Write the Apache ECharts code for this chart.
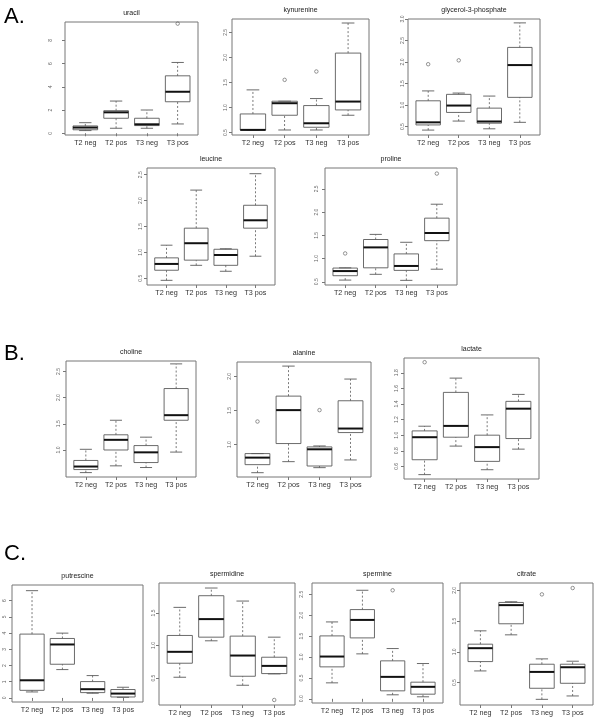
<!DOCTYPE html>
<html><head><meta charset="utf-8">
<script src="https://cdn.jsdelivr.net/npm/echarts@6/dist/echarts.min.js"></script>
<style>html,body{margin:0;padding:0;background:#fff}#c{width:600px;height:720px}</style>
</head><body><div id="c"></div>
<script>
const groups = ['T2 neg', 'T2 pos', 'T3 neg', 'T3 pos'];
// each box: [lower whisker, Q1, median, Q3, upper whisker]
const uracil = [[0.23,0.30,0.49,0.63,0.91],[0.43,1.29,1.80,1.94,2.77],[0.43,0.66,0.77,1.29,2.00],[0.80,2.71,3.57,4.94,6.09]];
const uracilOut = [[4,9.43]];
const uracilTicks = [0,2,4,6,8];
const kynurenine = [[0.553,0.553,0.555,0.873,1.353],[0.553,0.847,1.087,1.127,1.127],[0.553,0.607,0.687,1.04,1.18],[0.847,0.953,1.12,2.087,2.687]];
const kynurenineOut = [[2,1.553],[3,1.72]];
const kynurenineTicks = [0.5,1.0,1.5,2.0,2.5];
const glycerol = [[0.42,0.54,0.60,1.10,1.33],[0.63,0.83,0.99,1.25,1.28],[0.45,0.58,0.62,0.93,1.21],[0.60,1.18,1.93,2.34,2.91]];
const glycerolOut = [[1,1.95],[2,2.04]];
const glycerolTicks = [0.5,1.0,1.5,2.0,2.5,3.0];
const leucine = [[0.46,0.655,0.777,0.894,1.139],[0.75,0.85,1.177,1.468,2.203],[0.635,0.75,0.95,1.06,1.07],[0.926,1.468,1.62,1.91,2.52]];
const leucineOut = [];
const leucineTicks = [0.5,1.0,1.5,2.0,2.5];
const proline = [[0.536,0.63,0.73,0.795,0.80],[0.66,0.80,1.24,1.41,1.52],[0.53,0.745,0.84,1.10,1.35],[0.77,1.385,1.55,1.87,2.17]];
const prolineOut = [[1,1.11],[4,2.83]];
const prolineTicks = [0.5,1.0,1.5,2.0,2.5];
const choline = [[0.568,0.626,0.684,0.80,1.013],[0.697,1.0,1.194,1.29,1.568],[0.665,0.76,0.955,1.084,1.245],[0.96,1.568,1.665,2.174,2.645]];
const cholineOut = [];
const cholineTicks = [1.0,1.5,2.0,2.5];
const alanine = [[0.588,0.706,0.809,0.868,0.868],[0.75,1.015,1.505,1.71,2.15],[0.662,0.686,0.931,0.966,0.98],[0.775,1.176,1.235,1.642,1.96]];
const alanineOut = [[1,1.338],[3,1.505]];
const alanineTicks = [1.0,1.5,2.0];
const lactate = [[0.494,0.685,0.974,1.055,1.115],[0.86,0.974,1.119,1.549,1.732],[0.557,0.664,0.847,1.0,1.26],[0.821,0.957,1.34,1.434,1.523]];
const lactateOut = [[1,1.936]];
const lactateTicks = [0.6,0.8,1.0,1.2,1.4,1.6,1.8];
const putrescine = [[0.37,0.47,1.09,3.94,6.62],[1.75,2.08,3.30,3.67,4.0],[0.29,0.33,0.54,1.01,1.38],[0.04,0.06,0.27,0.52,0.66]];
const putrescineOut = [];
const putrescineTicks = [0,1,2,3,4,5,6];
const spermidine = [[0.513,0.728,0.903,1.154,1.585],[1.072,1.128,1.405,1.764,1.882],[0.39,0.528,0.846,1.144,1.682],[0.564,0.569,0.687,0.82,1.128]];
const spermidineOut = [[4,0.164]];
const spermidineTicks = [0.5,1.0,1.5];
const spermine = [[0.382,0.764,1.011,1.505,1.839],[1.075,1.457,1.887,2.134,2.596],[0.096,0.191,0.525,0.908,1.202],[0.048,0.111,0.287,0.398,0.844]];
const spermineOut = [[3,2.596]];
const spermineTicks = [0.0,0.5,1.0,1.5,2.0,2.5];
const citrate = [[0.69,0.842,1.06,1.125,1.342],[1.277,1.457,1.76,1.804,1.815],[0.228,0.408,0.674,0.799,0.886],[0.283,0.489,0.75,0.799,0.848]];
const citrateOut = [[3,1.935],[4,2.038]];
const citrateTicks = [0.5,1.0,1.5,2.0];

const panels = [
  {title:'uracil', box:uracil, out:uracilOut, ticks:uracilTicks, y:[-0.15,9.57], r:[65,22,133,113], m:12},
  {title:'kynurenine', box:kynurenine, out:kynurenineOut, ticks:kynurenineTicks, y:[0.453,2.767], r:[232,19,137,116], m:4},
  {title:'glycerol-3-phosphate', box:glycerol, out:glycerolOut, ticks:glycerolTicks, y:[0.306,3.0], r:[408,19,132,116], m:3},
  {title:'leucine', box:leucine, out:leucineOut, ticks:leucineTicks, y:[0.37,2.63], r:[147,168,128,117], m:4},
  {title:'proline', box:proline, out:prolineOut, ticks:prolineTicks, y:[0.43,2.95], r:[325,168,132,117], m:6},
  {title:'choline', box:choline, out:cholineOut, ticks:cholineTicks, y:[0.484,2.70], r:[66,361,130,116], m:5},
  {title:'alanine', box:alanine, out:alanineOut, ticks:alanineTicks, y:[0.525,2.21], r:[237,362,134,115], m:5},
  {title:'lactate', box:lactate, out:lactateOut, ticks:lactateTicks, y:[0.438,1.99], r:[404,358,135,121], m:5},
  {title:'putrescine', box:putrescine, out:putrescineOut, ticks:putrescineTicks, y:[-0.25,6.97], r:[12,585,131,117], m:5},
  {title:'spermidine', box:spermidine, out:spermidineOut, ticks:spermidineTicks, y:[0.087,1.959], r:[159,583,136,122], m:3},
  {title:'spermine', box:spermine, out:spermineOut, ticks:spermineTicks, y:[-0.1,2.77], r:[312,583,131,120], m:8},
  {title:'citrate', box:citrate, out:citrateOut, ticks:citrateTicks, y:[0.136,2.12], r:[460,583,133,122], m:3}
];

const FONT = '"Liberation Sans", Arial, sans-serif';
const LINE = '#5a5a5a';

function renderBox(params, api) {
  const x = api.value(0);
  const v = [api.value(1), api.value(2), api.value(3), api.value(4), api.value(5)];
  const hw = 0.4, sw = 0.2;
  const c = (xx, yy) => api.coord([xx, yy]);
  const kids = [];
  const seg = (a, b, style) => kids.push({type:'line', shape:{x1:a[0], y1:a[1], x2:b[0], y2:b[1]}, style:style});
  const dash = {stroke:LINE, lineWidth:0.8, lineDash:[2,2]};
  const solid = {stroke:LINE, lineWidth:0.9};
  seg(c(x, v[0]), c(x, v[1]), dash);
  seg(c(x, v[3]), c(x, v[4]), dash);
  seg(c(x - sw, v[0]), c(x + sw, v[0]), solid);
  seg(c(x - sw, v[4]), c(x + sw, v[4]), solid);
  const tl = c(x - hw, v[3]), br = c(x + hw, v[1]);
  kids.push({type:'rect', shape:{x:tl[0], y:tl[1], width:br[0]-tl[0], height:br[1]-tl[1]}, style:{fill:'none', stroke:LINE, lineWidth:0.9}});
  seg(c(x - hw, v[2]), c(x + hw, v[2]), {stroke:'#111', lineWidth:2});
  return {type:'group', children:kids};
}

const grid = [], xAxis = [], yAxis = [], series = [], graphic = [];
panels.forEach((p, i) => {
  const [l, t, w, h] = p.r;
  grid.push({left:l, top:t, width:w, height:h, show:true, borderColor:'#777', borderWidth:1, backgroundColor:'transparent'});
  xAxis.push({type:'value', gridIndex:i, min:0.34, max:4.66,
    axisLine:{show:false}, splitLine:{show:false},
    axisTick:{show:true, customValues:[1,2,3,4], length:3, lineStyle:{color:'#777'}},
    axisLabel:{show:true, customValues:[1,2,3,4], formatter:v => groups[Math.round(v)-1] || '', margin:5,
      fontSize:7.2, color:'#333', fontFamily:FONT}});
  yAxis.push({type:'value', gridIndex:i, min:p.y[0], max:p.y[1],
    axisLine:{show:false}, splitLine:{show:false},
    axisTick:{show:true, customValues:p.ticks, length:3, lineStyle:{color:'#777'}},
    axisLabel:{show:true, customValues:p.ticks, rotate:90, margin:p.m, fontSize:5, color:'#666', fontFamily:FONT,
      formatter:v => (p.ticks.some(t => !Number.isInteger(t)) ? v.toFixed(1) : String(v))}});
  series.push({type:'custom', xAxisIndex:i, yAxisIndex:i, renderItem:renderBox,
    encode:{x:0, y:[1,2,3,4,5]},
    data:p.box.map((b, k) => [k + 1].concat(b)), silent:true});
  series.push({type:'scatter', xAxisIndex:i, yAxisIndex:i, symbol:'circle', symbolSize:3.5,
    itemStyle:{color:'transparent', borderColor:LINE, borderWidth:0.8},
    data:p.out, silent:true, z:5});
  graphic.push({type:'text', x:l + w/2, y:t - 9, style:{text:p.title, font:'7px ' + FONT, fill:'#222', textAlign:'center', textVerticalAlign:'middle'}});
});
graphic.push({type:'text', x:4, y:6, style:{text:'A.', font:'22px ' + FONT, fill:'#000'}});
graphic.push({type:'text', x:4, y:343, style:{text:'B.', font:'22px ' + FONT, fill:'#000'}});
graphic.push({type:'text', x:4, y:543, style:{text:'C.', font:'22px ' + FONT, fill:'#000'}});

const chart = echarts.init(document.getElementById('c'), null, {renderer:'canvas'});
chart.setOption({animation:false, backgroundColor:'#fff', grid, xAxis, yAxis, series, graphic});
</script>
</body></html>
